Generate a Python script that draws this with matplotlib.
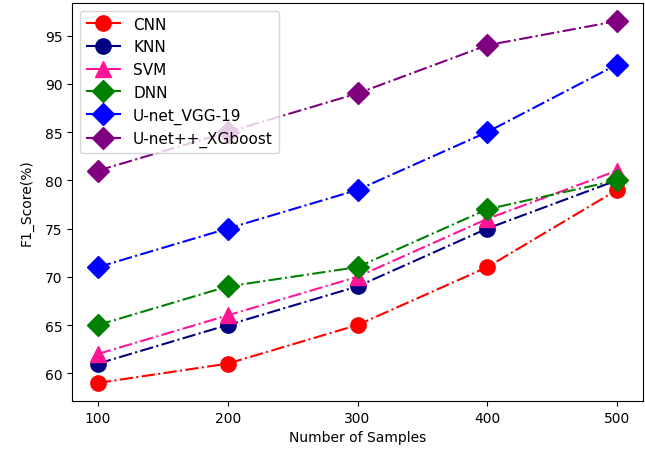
import matplotlib
matplotlib.use("Agg")
import matplotlib.pyplot as plt

samples = [100, 200, 300, 400, 500]
cnn = [59, 61, 65, 71, 79]
knn = [61, 65, 69, 75, 80]
svm = [62, 66, 70, 76, 81]
dnn = [65, 69, 71, 77, 80]
unet_vgg = [71, 75, 79, 85, 92]
unetpp_xgb = [81, 85, 89, 94, 96.5]

fig = plt.figure(figsize=(6.45, 4.52), dpi=100)
ax = fig.add_axes([72 / 645, 50 / 452, 571 / 645, 398 / 452])

ms = 11
ax.plot(samples, cnn, "-.", color="red", marker="o", markersize=ms, label="CNN")
ax.plot(samples, knn, "-.", color="navy", marker="o", markersize=ms, label="KNN")
ax.plot(samples, svm, "-.", color="deeppink", marker="^", markersize=ms, label="SVM")
ax.plot(samples, dnn, "-.", color="green", marker="D", markersize=ms, label="DNN")
ax.plot(samples, unet_vgg, "-.", color="blue", marker="D", markersize=ms, label="U-net_VGG-19")
ax.plot(samples, unetpp_xgb, "-.", color="purple", marker="D", markersize=ms, label="U-net++_XGboost")

ax.set_xticks(samples)
ax.set_xlabel("Number of Samples")
ax.set_ylabel("F1_Score(%)", labelpad=8)
ax.legend(loc="upper left", fontsize=11, handlelength=2.3)

fig.savefig("out.png", dpi=100)
